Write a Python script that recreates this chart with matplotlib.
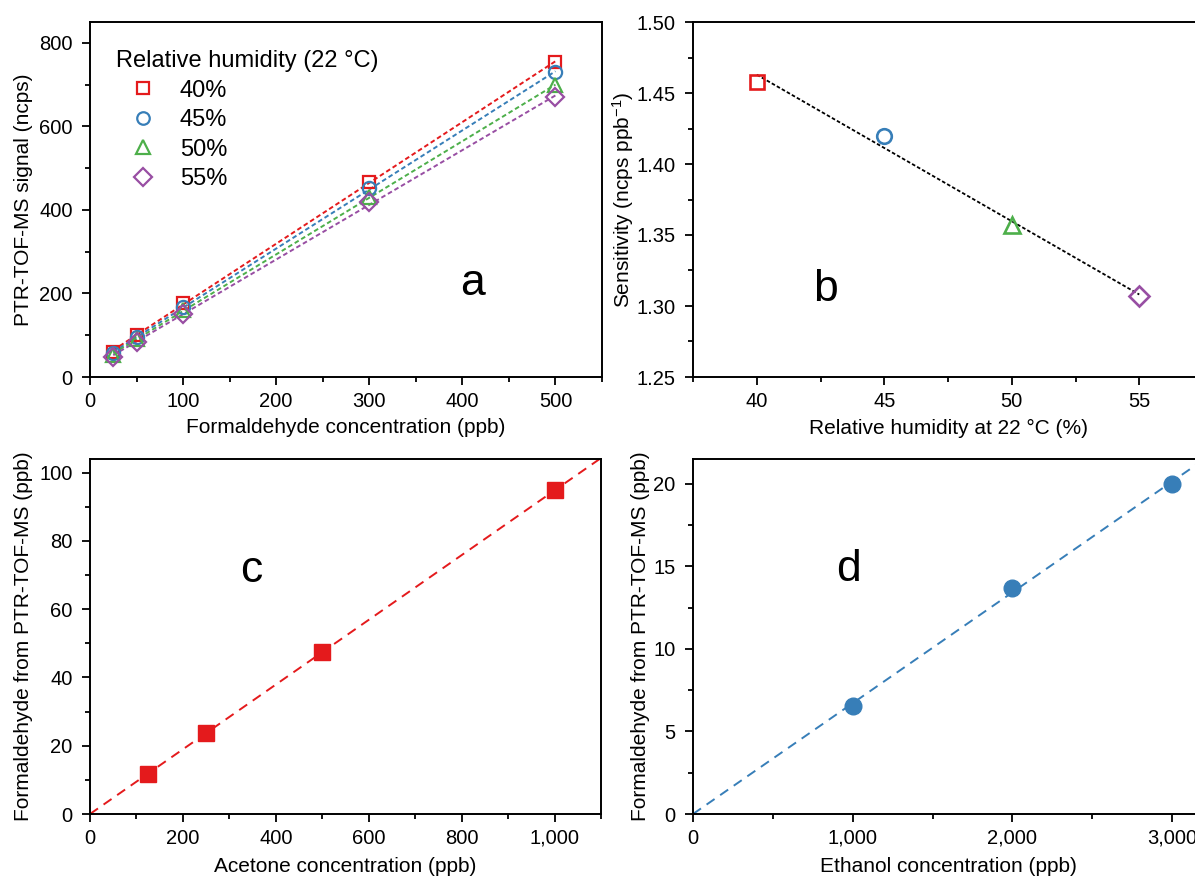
import numpy as np
import matplotlib
matplotlib.use("Agg")
import matplotlib.pyplot as plt
from matplotlib.lines import Line2D
from matplotlib.ticker import MultipleLocator, FuncFormatter

plt.rcParams['font.family'] = ['Liberation Sans', 'DejaVu Sans']
plt.rcParams['mathtext.fontset'] = 'custom'
plt.rcParams['mathtext.rm'] = 'Liberation Sans'
plt.rcParams['mathtext.default'] = 'regular'

# ---- data -------------------------------------------------------------
# (a) PTR-TOF-MS signal vs formaldehyde concentration at several RH levels
hcho_conc = [25, 50, 100, 300, 500]
rh_labels = ["40%", "45%", "50%", "55%"]
signal_rh40 = [60, 100, 178, 467, 754]
signal_rh45 = [57, 95, 168, 452, 730]
signal_rh50 = [53, 90, 161, 432, 698]
signal_rh55 = [48, 85, 152, 419, 670]

# (b) sensitivity vs relative humidity
rh_values = [40, 45, 50, 55]
sensitivity = [1.458, 1.420, 1.357, 1.307]

# (c) apparent formaldehyde from acetone
acetone_conc = [125, 250, 500, 1000]
hcho_from_acetone = [11.8, 23.7, 47.4, 94.8]

# (d) apparent formaldehyde from ethanol
ethanol_conc = [1000, 2000, 3000]
hcho_from_ethanol = [6.55, 13.7, 20.0]

# ---- styling ----------------------------------------------------------
colors = ["#E41A1C", "#377EB8", "#4DAF4A", "#984EA3"]
markers = ["s", "o", "^", "D"]
msizes_a = [8.5, 9.5, 10.5, 9.5]
msizes_b = [9.5, 10.5, 12, 10.5]

W, H = 1195, 880
fig = plt.figure(figsize=(W / 100, H / 100), dpi=100)


def px_axes(left, top, right, bottom):
    return fig.add_axes([left / W, 1 - bottom / H, (right - left) / W, (bottom - top) / H])


def style(ax):
    for s in ax.spines.values():
        s.set_linewidth(1.4)
    ax.tick_params(which='major', direction='out', length=5.5, width=1.3,
                   labelsize=14.5, top=False, right=False)
    ax.tick_params(axis='x', which='major', pad=5)
    ax.tick_params(axis='y', which='major', pad=7)
    ax.tick_params(which='minor', direction='out', length=3.5, width=1.3,
                   top=False, right=False)


comma = FuncFormatter(lambda v, p: f"{v:,.0f}")

ax_a = px_axes(90, 22, 602, 377)
ax_b = px_axes(693, 22, 1203, 377)
ax_c = px_axes(90, 459, 601, 814)
ax_d = px_axes(693, 459, 1204, 814)

# ---- panel a ----------------------------------------------------------
series_a = [signal_rh40, signal_rh45, signal_rh50, signal_rh55]
xfit = np.array([hcho_conc[0], hcho_conc[-1]], dtype=float)
for vals, c, m, ms in zip(series_a, colors, markers, msizes_a):
    k, b0 = np.polyfit(hcho_conc, vals, 1)
    ax_a.plot(xfit, k * xfit + b0, color=c, lw=1.4, dashes=(2.4, 1.5), zorder=2)
    ax_a.plot(hcho_conc, vals, ls='none', marker=m, ms=ms, mfc='none', mec=c,
              mew=1.6, zorder=3)
ax_a.set_xlim(0, 550)
ax_a.set_ylim(0, 850)
ax_a.xaxis.set_major_locator(MultipleLocator(100))
ax_a.xaxis.set_minor_locator(MultipleLocator(50))
ax_a.yaxis.set_major_locator(MultipleLocator(200))
ax_a.yaxis.set_minor_locator(MultipleLocator(100))
ax_a.set_xlabel("Formaldehyde concentration (ppb)", fontsize=15)
ax_a.set_ylabel("PTR-TOF-MS signal (ncps)", fontsize=15)
handles = [Line2D([], [], ls='none', marker=m, ms=ms * 0.95, mfc='none', mec=c, mew=1.6)
           for c, m, ms in zip(colors, markers, msizes_a)]
leg = ax_a.legend(handles, rh_labels, title="Relative humidity (22 °C)",
                  loc='upper left', bbox_to_anchor=(116 / W, 1 - 50 / H),
                  bbox_transform=fig.transFigure, frameon=False, alignment='left',
                  fontsize=17, title_fontsize=17, handlelength=2.3,
                  handletextpad=0.4, labelspacing=0.32, borderpad=0,
                  borderaxespad=0, numpoints=1)

# ---- panel b ----------------------------------------------------------
kb, bb = np.polyfit(rh_values, sensitivity, 1)
xb = np.array([rh_values[0], rh_values[-1]], dtype=float)
ax_b.plot(xb, kb * xb + bb, color='black', lw=1.3, dashes=(2, 1.2), zorder=2)
for x, y, c, m, ms in zip(rh_values, sensitivity, colors, markers, msizes_b):
    ax_b.plot([x], [y], ls='none', marker=m, ms=ms, mfc='none', mec=c, mew=1.9, zorder=3)
ax_b.set_xlim(37.5, 57.5)
ax_b.set_ylim(1.25, 1.50)
ax_b.xaxis.set_major_locator(MultipleLocator(5))
ax_b.xaxis.set_minor_locator(MultipleLocator(2.5))
ax_b.yaxis.set_major_locator(MultipleLocator(0.05))
ax_b.yaxis.set_minor_locator(MultipleLocator(0.025))
ax_b.yaxis.set_major_formatter(FuncFormatter(lambda v, p: f"{v:.2f}"))
ax_b.set_xlabel("Relative humidity at 22 °C (%)", fontsize=15)
ax_b.set_ylabel("Sensitivity (ncps ppb$^{-1}$)", fontsize=15)

# ---- panel c ----------------------------------------------------------
ac = np.array(acetone_conc, float)
hc = np.array(hcho_from_acetone, float)
kc = (ac * hc).sum() / (ac * ac).sum()
xc = np.array([0, 1100.0])
ax_c.plot(xc, kc * xc, color=colors[0], lw=1.4, dashes=(5, 3.5), zorder=2)
ax_c.plot(acetone_conc, hcho_from_acetone, ls='none', marker='s', ms=11,
          mfc=colors[0], mec=colors[0], zorder=3)
ax_c.set_xlim(0, 1100)
ax_c.set_ylim(0, 104)
ax_c.xaxis.set_major_locator(MultipleLocator(200))
ax_c.xaxis.set_minor_locator(MultipleLocator(100))
ax_c.yaxis.set_major_locator(MultipleLocator(20))
ax_c.yaxis.set_minor_locator(MultipleLocator(10))
ax_c.xaxis.set_major_formatter(comma)
ax_c.set_xlabel("Acetone concentration (ppb)", fontsize=15)
ax_c.set_ylabel("Formaldehyde from PTR-TOF-MS (ppb)", fontsize=15)

# ---- panel d ----------------------------------------------------------
ae = np.array(ethanol_conc, float)
he = np.array(hcho_from_ethanol, float)
kd = (ae * he).sum() / (ae * ae).sum()
xd = np.array([0, 3200.0])
ax_d.plot(xd, kd * xd, color=colors[1], lw=1.4, dashes=(5, 3.5), zorder=2)
ax_d.plot(ethanol_conc, hcho_from_ethanol, ls='none', marker='o', ms=12,
          mfc=colors[1], mec=colors[1], zorder=3)
ax_d.set_xlim(0, 3200)
ax_d.set_ylim(0, 21.5)
ax_d.xaxis.set_major_locator(MultipleLocator(1000))
ax_d.xaxis.set_minor_locator(MultipleLocator(500))
ax_d.yaxis.set_major_locator(MultipleLocator(5))
ax_d.yaxis.set_minor_locator(MultipleLocator(2.5))
ax_d.xaxis.set_major_formatter(comma)
ax_d.set_xlabel("Ethanol concentration (ppb)", fontsize=15)
ax_d.set_ylabel("Formaldehyde from PTR-TOF-MS (ppb)", fontsize=15)

for ax in (ax_a, ax_b, ax_c, ax_d):
    style(ax)

# axis label placement
ax_a.yaxis.set_label_coords(-0.112, 0.5)
ax_b.yaxis.set_label_coords(-0.111, 0.5)
ax_c.yaxis.set_label_coords(-0.1115, 0.5)
ax_d.yaxis.set_label_coords(-0.085, 0.5)
ax_a.xaxis.set_label_coords(0.5, -0.116)
ax_b.xaxis.set_label_coords(0.5, -0.118)
ax_c.xaxis.set_label_coords(0.5, -0.121)
ax_d.xaxis.set_label_coords(0.5, -0.121)

# panel letters
for letter, x, y in [("a", 472, 295), ("b", 826, 301), ("c", 251, 582), ("d", 848, 581)]:
    fig.text(x / W, 1 - y / H, letter, fontsize=32, ha='center', va='baseline')

fig.savefig("out.png", dpi=100)
